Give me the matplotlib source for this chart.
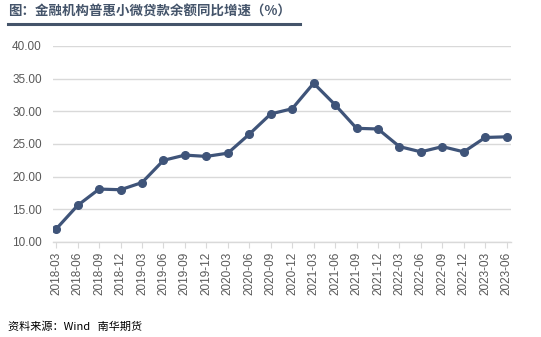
import matplotlib
matplotlib.use("Agg")
import matplotlib.pyplot as plt
from matplotlib.lines import Line2D

plt.rcParams['font.family'] = ['Liberation Sans', 'Noto Sans CJK SC', 'DejaVu Sans']

# _________________________________________________________________
# data: year-on-year growth of inclusive small/micro loans (%)
dates = ["2018-03", "2018-06", "2018-09", "2018-12", "2019-03", "2019-06",
         "2019-09", "2019-12", "2020-03", "2020-06", "2020-09", "2020-12",
         "2021-03", "2021-06", "2021-09", "2021-12", "2022-03", "2022-06",
         "2022-09", "2022-12", "2023-03", "2023-06"]
growth = [12.0, 15.6, 18.1, 18.0, 19.1, 22.5,
          23.3, 23.1, 23.6, 26.5, 29.6, 30.4,
          34.3, 31.0, 27.4, 27.3, 24.6, 23.8,
          24.6, 23.8, 26.0, 26.1]
y_ticks = [10, 15, 20, 25, 30, 35, 40]
# _________________________________________________________________

LINE_COLOR = "#3F5479"
TITLE_COLOR = "#44546A"
TICK_COLOR = "#595959"

fig = plt.figure(figsize=(5.41, 3.37), dpi=100)
ax = fig.add_axes([53 / 541, 1 - 242 / 337, (511 - 53) / 541, (242 - 46) / 337])

x = list(range(len(dates)))
ax.plot(x, growth, color=LINE_COLOR, lw=2.3, marker="o", ms=5.5,
        markeredgecolor=LINE_COLOR, zorder=3)

ax.set_ylim(10, 40)
ax.set_yticks(y_ticks)
ax.set_yticklabels([f"{v:.2f}" for v in y_ticks])
ax.set_xlim(-0.15, len(dates) - 1 + 0.2)
ax.set_xticks(x)
ax.set_xticklabels(dates, rotation=90)

ax.grid(axis="y", color="#D9D9D9", lw=1)
ax.set_axisbelow(True)
for side in ["top", "right", "left"]:
    ax.spines[side].set_visible(False)
ax.spines["bottom"].set_color("#D9D9D9")
ax.spines["bottom"].set_linewidth(1)
ax.tick_params(axis="y", length=0, labelsize=8.5, labelcolor=TICK_COLOR, pad=8)
ax.tick_params(axis="x", length=4, color="#D9D9D9", labelsize=8.5,
               labelcolor=TICK_COLOR, pad=3)

# title and underline
fig.text(8 / 541, 1 - 12 / 337, "图：金融机构普惠小微贷款余额同比增速（%）",
         fontsize=9.7, fontweight="bold", color=TITLE_COLOR,
         family=['Noto Sans CJK SC', 'DejaVu Sans'], va="center", ha="left")
fig.add_artist(Line2D([8 / 541, 300 / 541], [1 - 23.5 / 337, 1 - 23.5 / 337],
                      color=TITLE_COLOR, lw=2.2, transform=fig.transFigure))

# source note
fig.text(8 / 541, 1 - 327 / 337, "资料来源：Wind   南华期货", fontsize=8,
         color="black", family=['Noto Sans CJK SC', 'DejaVu Sans'],
         va="center", ha="left")

fig.savefig("out.png", dpi=100)
